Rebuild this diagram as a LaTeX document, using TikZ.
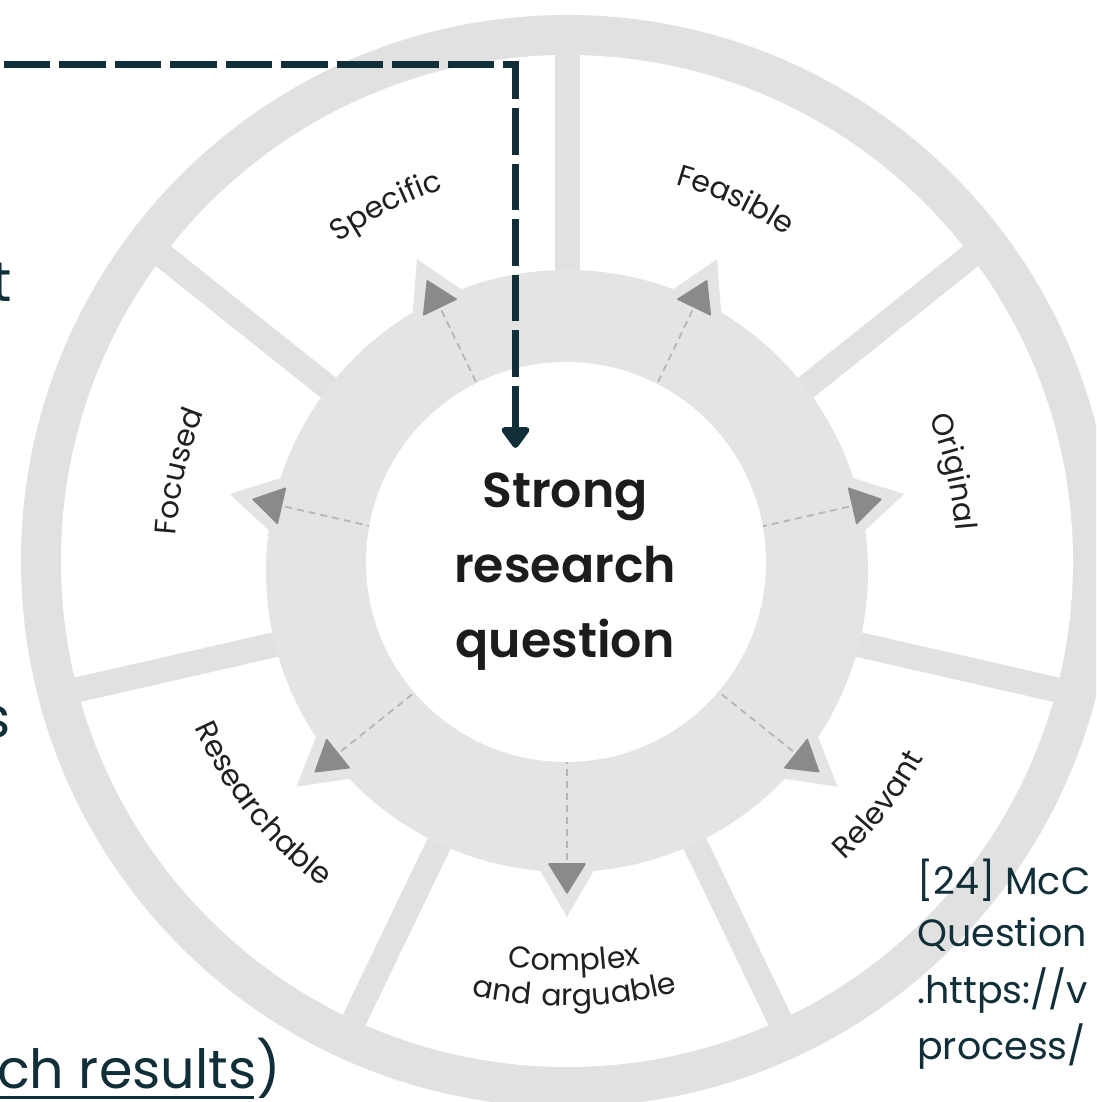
\documentclass[tikz,border=0pt]{standalone}
\usepackage{fontspec}
\setmainfont{Poppins}
\usetikzlibrary{arrows.meta,decorations.text}
\definecolor{ink}{RGB}{17,47,56}
\definecolor{ringgrey}{RGB}{225,225,225}
\definecolor{midgrey}{RGB}{228,228,228}
\definecolor{trigrey}{RGB}{138,138,138}
\definecolor{dashgrey}{RGB}{182,182,182}
\definecolor{lbl}{RGB}{32,32,32}
\definecolor{ctrink}{RGB}{28,28,28}
\newfontfamily\lblfam{Poppins}[LetterSpace=8]
\newfontfamily\ctrfam{Poppins}[UprightFont=* SemiBold]
\newcommand\lblfont{\lblfam\fontsize{30}{34}\selectfont\color{lbl}}
\begin{document}
\begin{tikzpicture}[x=1pt,y=1pt,
  spokeline/.style={draw=ringgrey, line width=25pt},
  notchtri/.style={fill=midgrey},
  darktri/.style={fill=trigrey, draw=trigrey, line width=1.5pt, line join=round},
  guide/.style={draw=dashgrey, line width=1.8pt, dash pattern=on 7pt off 5pt},
  dasharrow/.style={draw=ink, line width=7pt, dash pattern=on 46.5pt off 9pt,
      -{Triangle[width=32pt,length=23pt,round]}},
  slidetext/.style={text=ink, inner sep=0pt},
  ctrtext/.style={text=ctrink, inner sep=0pt, font=\ctrfam\fontsize{49}{52}\selectfont},
  reftext/.style={slidetext, anchor=base west, font=\fontsize{38}{44}\selectfont}
]
\useasboundingbox (0,0) rectangle (1096,1102);
\clip (0,0) rectangle (1096,1102);
\fill[white] (0,0) rectangle (1096,1102);

% outer wheel
\fill[ringgrey] (567,541) circle[radius=546];
\fill[white] (567,541) circle[radius=506];
\begin{scope}[shift={(567,524)}]
  \foreach \a in {90,38.57,-12.86,-64.29,-115.71,-167.14,141.43}
    \draw[spokeline] (\a:200) -- (\a:525);
\end{scope}

% middle ring
\fill[midgrey] (567,531) circle[radius=301];
\foreach \t in {115.71,64.29,12.86,-38.57,-90,-141.43,167.14}{
  \begin{scope}[shift={(567,531)}, rotate=\t]
    \fill[notchtri] (346,0) -- (289,33) -- (289,-33) -- cycle;
    \draw[guide] (150,0) -- (291,0);
    \filldraw[darktri] (322,0) -- (293,18) -- (293,-18) -- cycle;
  \end{scope}
}

% centre disc
\fill[white] (566,540) circle[radius=200];

% segment labels
\begin{scope}[shift={(567,541)}]
  \path[decorate, decoration={text along path, text align=center, text={|\lblfont|Specific}}]
    (157:392) arc[start angle=157, end angle=77, radius=392];
  \path[decorate, decoration={text along path, text align=center, text={|\lblfont|Feasible}}]
    (105:392) arc[start angle=105, end angle=25, radius=392];
  \path[decorate, decoration={text along path, text align=center, text={|\lblfont|Original}}]
    (53:390) arc[start angle=53, end angle=-27, radius=390];
  \path[decorate, decoration={text along path, text align=center, text={|\lblfont|Focused}}]
    (207:392) arc[start angle=207, end angle=127, radius=392];
  \path[decorate, decoration={text along path, text align=center, text={|\lblfont|Relevant}}]
    (-78:408) arc[start angle=-78, end angle=2, radius=408];
  \path[decorate, decoration={text along path, text align=center, text={|\lblfont|Researchable}}]
    (-181.4:408) arc[start angle=-181.4, end angle=-101.4, radius=408];
  \path[decorate, decoration={text along path, text align=center, text={|\lblfont|Complex}}]
    (-129:410) arc[start angle=-129, end angle=-49, radius=410];
  \path[decorate, decoration={text along path, text align=center, text={|\lblfont|and arguable}}]
    (-129:445) arc[start angle=-129, end angle=-49, radius=445];
\end{scope}

% centre text
\node[ctrtext, anchor=base] (ctrA) at (565,594) {Strong};
\node[ctrtext, anchor=base] (ctrB) at (565,519) {research};
\node[ctrtext, anchor=base] (ctrC) at (565,444) {question};

% slide fragments
\node[slidetext, anchor=base east, font=\fontsize{56}{60}\selectfont] (slideT) at (12,800) {t};
\node[slidetext, anchor=base east, font=\fontsize{56}{60}\selectfont] (slideS) at (11,364) {s};
\node[slidetext, anchor=base west, font=\fontsize{54}{60}\selectfont] (slideRes) at (-3,13) {ch results)};
\draw[ink, line width=3pt] (0,4) -- (254,4);

\node[reftext] (refA) at (917,207) {[24] McC};
\node[reftext] (refB) at (917,155) {Question};
\node[reftext] (refC) at (917,98) {.https://v};
\node[reftext] (refD) at (917,42) {process/};

% dashed pointer
\coordinate (dstart) at (3.6,1037);
\coordinate (dcorner) at (515.5,1037);
\coordinate (dtip) at (515.5,654);
\draw[dasharrow] (dstart) -- (dcorner) -- (dtip);
\end{tikzpicture}
\end{document}
